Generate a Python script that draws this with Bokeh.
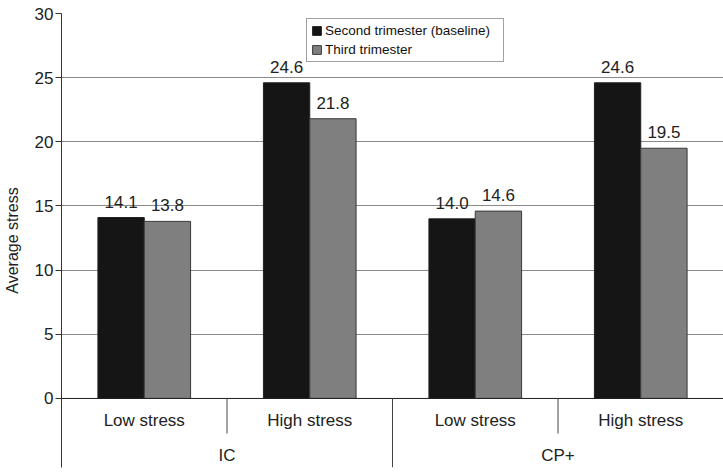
import numpy as np
from bokeh.plotting import figure
from bokeh.models import ColumnDataSource, FixedTicker, Legend, LegendItem
from bokeh.core.properties import value
from bokeh.embed import file_html
from bokeh.resources import INLINE

# ---- data ----
groups = ["IC", "CP+"]
levels = ["Low stress", "High stress", "Low stress", "High stress"]
level_group = ["IC", "IC", "CP+", "CP+"]
second_trimester = [14.1, 24.6, 14.0, 24.6]
third_trimester = [13.8, 21.8, 14.6, 19.5]
series_names = ["Second trimester (baseline)", "Third trimester"]
y_ticks = [0, 5, 10, 15, 20, 25, 30]

FONT = value("Liberation Sans")
BAR_W = 0.28
Y_MIN = -5.38

idx = np.arange(len(levels))
centers = idx + 0.5

p = figure(width=723, height=474, output_backend="svg", toolbar_location=None,
           x_range=(0, len(levels)), y_range=(Y_MIN, 30),
           x_axis_type=None, min_border_left=61, min_border_right=0,
           min_border_top=13, min_border_bottom=7)
p.outline_line_color = None
p.xgrid.visible = False
p.ygrid.ticker = FixedTicker(ticks=y_ticks)
p.ygrid.grid_line_color = "#8a8a8a"
p.ygrid.grid_line_width = 1

ax = p.yaxis[0]
ax.ticker = FixedTicker(ticks=y_ticks)
ax.axis_line_color = "#333333"
ax.major_tick_line_color = "#333333"
ax.major_tick_out = 6
ax.major_tick_in = 0
ax.minor_tick_line_color = None
ax.major_label_text_font = "Liberation Sans"
ax.major_label_text_font_size = "17px"
ax.major_label_text_color = "#222222"
ax.major_label_standoff = 2
ax.axis_label = "Average stress"
ax.axis_label_text_font = "Liberation Sans"
ax.axis_label_text_font_size = "16px"
ax.axis_label_text_font_style = "normal"
ax.axis_label_text_color = "#222222"
ax.axis_label_standoff = 11

src = ColumnDataSource(dict(
    x1=centers - BAR_W / 2, x2=centers + BAR_W / 2,
    s=second_trimester, t=third_trimester,
    sl=["%.1f" % v for v in second_trimester],
    tl=["%.1f" % v for v in third_trimester],
))

r1 = p.vbar(x="x1", top="s", width=BAR_W, source=src,
            fill_color="#151515", line_color="#222222", line_width=1)
r2 = p.vbar(x="x2", top="t", width=BAR_W, source=src,
            fill_color="#7f7f7f", line_color="#3a3a3a", line_width=1)

for xcol, ycol, lcol in [("x1", "s", "sl"), ("x2", "t", "tl")]:
    p.text(x=xcol, y=ycol, text=lcol, source=src, text_font=FONT,
           text_font_size="17px", text_color="#222222", text_align="center",
           text_baseline="bottom", y_offset=-10)

# baseline (category axis) and separators
p.segment(x0=[0], y0=[0], x1=[len(levels)], y1=[0], line_color="#222222", line_width=1)
sub_sep = [i for i in range(1, len(levels)) if level_group[i] == level_group[i - 1]]
grp_sep = [i for i in range(1, len(levels)) if level_group[i] != level_group[i - 1]]
p.segment(x0=sub_sep, y0=[0] * len(sub_sep), x1=sub_sep, y1=[-2.73] * len(sub_sep),
          line_color="#444444", line_width=1)
p.segment(x0=grp_sep, y0=[0] * len(grp_sep), x1=grp_sep, y1=[Y_MIN] * len(grp_sep),
          line_color="#444444", line_width=1)

# category labels
p.text(x=list(centers), y=[-1.71] * len(levels), text=levels, text_font=FONT,
       text_font_size="17px", text_color="#222222", text_align="center",
       text_baseline="middle")
grp_centers = [float(np.mean([c for c, g in zip(centers, level_group) if g == name])) for name in groups]
p.text(x=grp_centers, y=[-4.44] * len(groups), text=groups, text_font=FONT,
       text_font_size="17px", text_color="#222222", text_align="center",
       text_baseline="middle")

legend = Legend(items=[LegendItem(label=series_names[0], renderers=[r1]),
                       LegendItem(label=series_names[1], renderers=[r2])],
                location=(245, 405), orientation="vertical")
legend.label_text_font = "Liberation Sans"
legend.label_text_font_size = "13.5px"
legend.label_text_color = "#111111"
legend.glyph_width = 11
legend.glyph_height = 11
legend.label_standoff = 3
legend.label_height = 14
legend.label_width = 174
legend.spacing = 4
legend.padding = 4
legend.margin = 0
legend.border_line_color = "#444444"
legend.border_line_width = 1
legend.background_fill_color = "white"
legend.background_fill_alpha = 1
p.add_layout(legend, "center")

open("out.html", "w").write(file_html(p, INLINE))
